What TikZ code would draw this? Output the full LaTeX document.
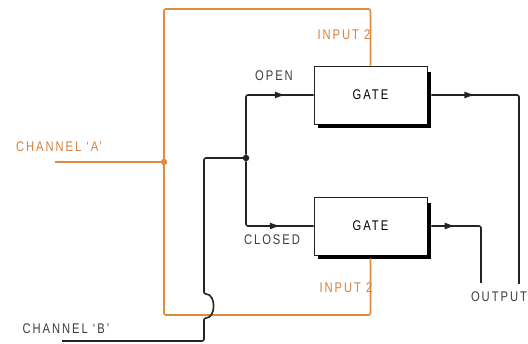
\documentclass[tikz,border=0pt]{standalone}
\usepackage{fontspec}
\usepackage{xcolor}
\usepackage{tikz}
\usetikzlibrary{arrows.meta, positioning, decorations.markings}

\newfontfamily\wirefont[FakeStretch=0.8,LetterSpace=14]{Liberation Sans}
\definecolor{awirecol}{RGB}{224,140,64}
\definecolor{alabelcol}{RGB}{214,128,58}
\definecolor{bwirecol}{RGB}{35,35,32}
\definecolor{blabelcol}{RGB}{60,62,56}

\begin{document}
\begin{tikzpicture}[
    x=1pt, y=-1pt,
    every node/.style={font=\wirefont\fontsize{14}{16}\selectfont, inner sep=0pt},
    gatebox/.style={rectangle, draw=bwirecol, line width=0.7pt, minimum width=113pt, minimum height=58pt, text centered},
    shadowline/.style={draw=black, line width=4.5pt},
    awire/.style={draw=awirecol, line width=1.7pt, rounded corners=2pt},
    bwire/.style={draw=bwirecol, line width=1.6pt, rounded corners=2pt},
    alabel/.style={text=alabelcol},
    blabel/.style={text=blabelcol},
    dot/.style={circle, fill=#1, minimum size=6.5pt, inner sep=0pt},
    midarrow/.style={postaction={decorate}, decoration={markings, mark=at position #1 with {\arrow{Latex[length=11pt,width=7pt]}}}}
]
\useasboundingbox (0,0) rectangle (528,344);

% gates
\node (gate1) [gatebox] at (370.5,95) {GATE};
\node (gate2) [gatebox] at (370.5,226) {GATE};
\draw [shadowline] ([shift={(1.5pt,-6pt)}]gate1.north east) |- ([shift={(4pt,-1.5pt)}]gate1.south west);
\draw [shadowline] ([shift={(1.5pt,-6pt)}]gate2.north east) |- ([shift={(4pt,-1.5pt)}]gate2.south west);

% wire corners
\coordinate (chA) at (55,162);
\coordinate (atop) at (164,9);
\coordinate (abot) at (164,315);
\coordinate (chB) at (62,341);
\coordinate (bcorner) at (204,341);
\coordinate (bhop1) at (204,318);
\coordinate (bhop2) at (204,294);
\coordinate (btop) at (204,158);
\coordinate (out1) at (519,284);
\coordinate (out2) at (481,283);

% channel A
\draw [awire] (chA) -- (164,162);
\draw [awire] (164,162) -- (atop) -| (gate1.north);
\draw [awire] (164,162) -- (abot) -| ([yshift=-3pt]gate2.south);
\node (aj) [dot=awirecol] at (164,162) {};

% channel B
\draw [bwire] (chB) -- (bcorner) -- (bhop1) to[out=0, in=0, looseness=1.3] (bhop2) -- (btop) -- (246,158);
\node (bj) [dot=bwirecol] at (246,158) {};
\draw [bwire, midarrow=0.78] (bj) |- (gate1.west);
\draw [bwire, midarrow=0.75] (bj) |- (gate2.west);

% outputs
\draw [bwire, midarrow=0.16] ([xshift=4pt]gate1.east) -| (out1);
\draw [bwire, midarrow=0.23] ([xshift=4pt]gate2.east) -| (out2);

% labels
\node (lblA) [alabel] at (59,147) {CHANNEL ‘A’};
\node (lblB) [blabel] at (66,329) {CHANNEL ‘B’};
\node (lblin1) [alabel] at (344,35) {INPUT 2};
\node (lblin2) [alabel] at (346,288) {INPUT 2};
\node (lblopen) [blabel] at (274,76) {OPEN};
\node (lblclosed) [blabel] at (272,240) {CLOSED};
\node (lblout) [blabel] at (499,297) {OUTPUT};
\end{tikzpicture}
\end{document}
